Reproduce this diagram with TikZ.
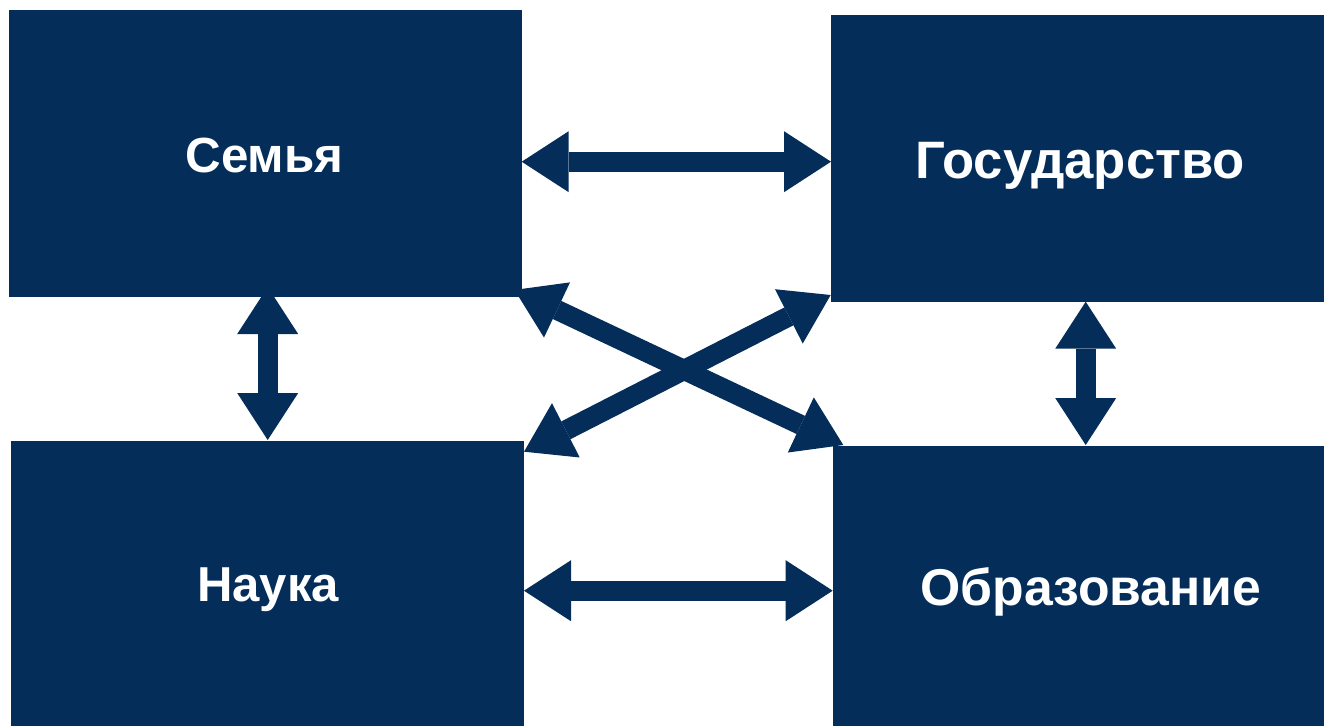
\documentclass[tikz,border=0pt]{standalone}
\usepackage{fontspec}
\setmainfont{Liberation Sans}
\usetikzlibrary{arrows.meta,backgrounds}
\definecolor{navy}{RGB}{4,45,90}
\tikzset{
  box/.style={fill=navy, draw=none, inner sep=0pt, outer sep=0pt, anchor=north west},
  lbl/.style={text=white, font=\bfseries, inner sep=0pt, anchor=base},
  biarrow/.style={draw=navy, line width=15pt,
    {Triangle[length=35.25pt,width=45.75pt,line width=0pt]}-{Triangle[length=35.25pt,width=45.75pt,line width=0pt]}}
}
\begin{document}
\begin{tikzpicture}[x=0.75pt,y=-0.75pt]
\useasboundingbox (0,0) rectangle (1324,726);
% boxes
\node[box, minimum width=384.5pt, minimum height=215pt] (semya) at (9,10) {};
\node[box, minimum width=369.75pt, minimum height=215pt] (gos) at (831,15) {};
\node[box, minimum width=384.75pt, minimum height=213.75pt] (nauka) at (11,441) {};
\node[box, minimum width=368.25pt, minimum height=210pt] (obr) at (833,446) {};
% labels
\node[lbl, font=\bfseries\fontsize{37pt}{43pt}\selectfont] (tsemya) at (264.5,172.3) {Семья};
\node[lbl, font=\bfseries\fontsize{39.5pt}{46pt}\selectfont] (tgos) at (1080,178.3) {Государство};
\node[lbl, font=\bfseries\fontsize{36.8pt}{43pt}\selectfont] (tnauka) at (268,601.7) {Наука};
\node[lbl, font=\bfseries\fontsize{38.8pt}{45pt}\selectfont] (tobr) at (1090.8,605.5) {Образование};
% arrow end points
\coordinate (a1) at (521.7,161.7);
\coordinate (a2) at (831,161.7);
\coordinate (b1) at (524,590.7);
\coordinate (b2) at (832.7,590.7);
\coordinate (c1) at (267.7,287);
\coordinate (c2) at (267.7,440);
\coordinate (d1) at (1085.7,301.7);
\coordinate (d2) at (1085.7,445);
\coordinate (e1) at (514.5,289.9);
\coordinate (e2) at (843.3,445);
\coordinate (f1) at (524,451.7);
\coordinate (f2) at (830.7,295);
\begin{scope}[on background layer]
\draw[biarrow] (a1) -- (a2);
\draw[biarrow] (b1) -- (b2);
\draw[biarrow] (c1) -- (c2);
\draw[biarrow] (d1) -- (d2);
\draw[biarrow] (e1) -- (e2);
\draw[biarrow] (f1) -- (f2);
\end{scope}
\end{tikzpicture}
\end{document}
